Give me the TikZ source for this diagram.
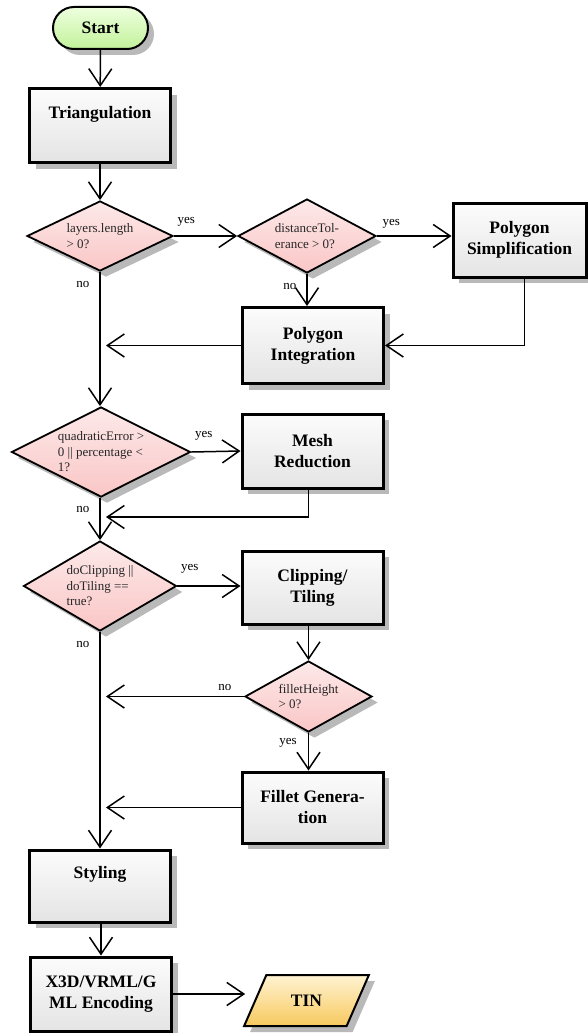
\documentclass[tikz,border=0pt]{standalone}
\usepackage{fontspec}
\setmainfont{Liberation Serif}
\usetikzlibrary{arrows.meta, shapes.geometric, shadows}

\definecolor{boxtop}{HTML}{FCFCFC}
\definecolor{boxbot}{HTML}{E4E4E4}
\definecolor{dectop}{HTML}{FDE9E9}
\definecolor{decbot}{HTML}{FAC6C6}
\definecolor{starttop}{HTML}{EEFFDF}
\definecolor{startbot}{HTML}{C2F29A}
\definecolor{tintop}{HTML}{FFF3D2}
\definecolor{tinbot}{HTML}{F7C95E}
\definecolor{shdwgray}{HTML}{B9B9B9}

\begin{document}
\begin{tikzpicture}[x=1pt, y=-1pt,
    shdw/.style={drop shadow={shadow xshift=6pt, shadow yshift=-6pt, fill=shdwgray, opacity=1}},
    proc/.style={rectangle, draw, line width=3pt, top color=boxtop, bottom color=boxbot, shdw,
      align=center, inner sep=0pt, font=\fontsize{17.5}{21}\selectfont\bfseries,
      minimum width=141pt, minimum height=74pt},
    onetop/.style={text height=12pt, text depth=27pt},
    dec/.style={diamond, draw, line width=1.8pt, top color=dectop, bottom color=decbot, shdw,
      align=left, inner sep=0pt, aspect=2, text=black!85, font=\fontsize{13}{15.5}\selectfont},
    term/.style={rectangle, rounded corners=21pt, draw, line width=2pt, top color=starttop,
      bottom color=startbot, shdw, font=\fontsize{17.5}{21}\selectfont\bfseries,
      minimum width=95pt, minimum height=42pt},
    io/.style={trapezium, trapezium left angle=60, trapezium right angle=120, trapezium stretches=true,
      draw, line width=2pt, top color=tintop, bottom color=tinbot, shdw,
      font=\fontsize{17.5}{21}\selectfont\bfseries, minimum width=125pt, minimum height=51pt},
    arr/.style={line width=1.5pt, -{Straight Barb[length=17pt, width=23pt]}},
    lbl/.style={font=\fontsize{13}{15}\selectfont, inner sep=1pt}
  ]
  \useasboundingbox (0,0) rectangle (588,1033);

  % nodes
  \node[term] (start) at (100.5,28) {Start};
  \node[proc, onetop] (tri) at (100,125.5) {Triangulation};
  \node[dec, minimum width=146pt, minimum height=70pt] (d1) at (100,236) {layers.length\\> 0?};
  \node[dec, minimum width=138pt, minimum height=74pt] (d2) at (307,236) {distanceTol-\\erance > 0?};
  \node[proc, minimum width=133pt] (psimp) at (519.5,240) {Polygon\\Simplification};
  \node[proc, minimum height=76pt] (pint) at (313,345.5) {Polygon\\Integration};
  \node[dec, minimum width=179pt, minimum height=90pt] (d3) at (101,452) {quadraticError >\\0 || percentage <\\1?};
  \node[proc] (mesh) at (312.5,451) {Mesh\\Reduction};
  \node[dec, minimum width=153pt, minimum height=90pt] (d4) at (100,586) {doClipping ||\\doTiling ==\\true?};
  \node[proc, minimum height=73pt] (clip) at (312.5,587.5) {Clipping/\\Tiling};
  \node[dec, minimum width=127pt, minimum height=71pt] (d5) at (308.5,696.5) {filletHeight\\> 0?};
  \node[proc, minimum height=71pt] (fillet) at (312.5,807.5) {Fillet Genera-\\tion};
  \node[proc, onetop, minimum height=72pt] (styl) at (100,886) {Styling};
  \node[proc] (x3d) at (101,994) {X3D/VRML/G\\ML Encoding};
  \node[io] (tin) at (306.5,1000.5) {TIN};

  % connectors
  \draw[arr] (start) -- (tri);
  \draw[arr] (tri) -- (d1);
  \draw[arr] (d1.east) -- node[lbl, pos=0, anchor=south west, xshift=2pt, yshift=8pt] {yes} (d2.west);
  \draw[arr] (d2.east) -- node[lbl, pos=0, anchor=south west, xshift=4pt, yshift=6pt] {yes} (d2.east -| psimp.west);
  \draw[arr] (d2.south) -- node[lbl, pos=0, anchor=north east, xshift=-9pt, yshift=-8pt] {no} (d2.south |- pint.north);
  \draw[arr] ([xshift=5pt]psimp.south) |- (pint.east);
  \draw[arr, shorten >=6pt] (pint.west) -- (pint.west -| d1.south);
  \draw[arr] (d1.south) -- node[lbl, pos=0, anchor=north east, xshift=-9pt, yshift=-8pt] {no} (d3.north -| d1.south);

  \draw[arr] (d3.east) -- node[lbl, pos=0, anchor=south west, xshift=2pt, yshift=10pt] {yes} (mesh.west);
  \coordinate (mret) at (100,517);
  \draw[arr, shorten >=6pt] ([xshift=-4pt]mesh.south) |- (mret);
  \draw[arr] (d3.south -| d4.north) -- node[lbl, pos=0, anchor=north east, xshift=-9pt, yshift=-7pt] {no} (d4.north);

  \draw[arr] (d4.east) -- node[lbl, pos=0, anchor=south west, xshift=2pt, yshift=11pt] {yes} (d4.east -| clip.west);
  \draw[arr] (d5.north |- clip.south) -- (d5.north);
  \draw[arr, shorten >=6pt] (d5.west) -- node[lbl, pos=0, anchor=south east, xshift=-11pt, yshift=4pt] {no} (d5.west -| d4.south);
  \draw[arr] (d5.south) -- node[lbl, pos=0, anchor=north east, xshift=-10pt, yshift=-4pt] {yes} (d5.south |- fillet.north);
  \draw[arr, shorten >=6pt] (fillet.west) -- (fillet.west -| d4.south);
  \draw[arr] (d4.south) -- node[lbl, pos=0, anchor=north east, xshift=-9pt, yshift=-8pt] {no} (styl.north -| d4.south);

  \draw[arr] (styl.south -| x3d.north) -- (x3d.north);
  \draw[arr, shorten >=9pt] (x3d.east) -- (x3d.east -| tin.west);
\end{tikzpicture}
\end{document}
